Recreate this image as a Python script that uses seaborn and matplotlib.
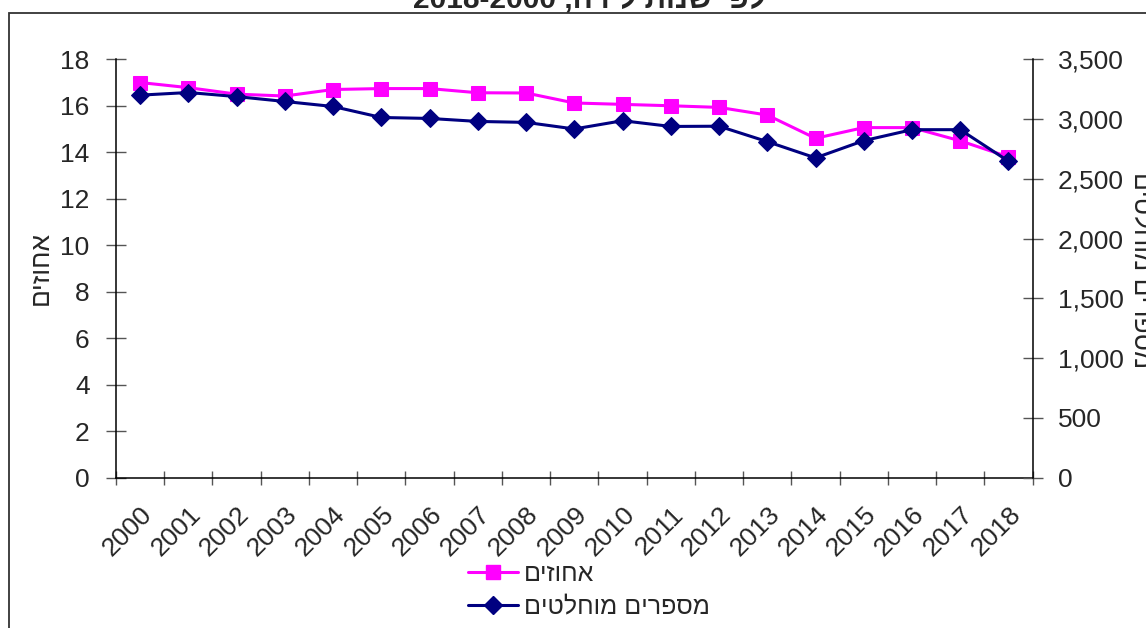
import matplotlib
matplotlib.use("Agg")
import matplotlib.pyplot as plt
import seaborn as sns
import numpy as np
from matplotlib.patches import Rectangle
from matplotlib.lines import Line2D

# ---- data ----
years = [str(y) for y in range(2000, 2019)]
pct = [17.0, 16.78, 16.5, 16.42, 16.7, 16.74, 16.74, 16.56, 16.55, 16.12,
       16.06, 16.0, 15.93, 15.6, 14.6, 15.06, 15.06, 14.49, 13.8]
absolute = [3200, 3222, 3188, 3147, 3105, 3013, 3005, 2980, 2972, 2917,
            2986, 2938, 2940, 2811, 2675, 2819, 2911, 2911, 2647]
left_ticks = [0, 2, 4, 6, 8, 10, 12, 14, 16, 18]
right_ticks = [0, 500, 1000, 1500, 2000, 2500, 3000, 3500]
label_pct = "אחוזים"
label_abs = "מספרים מוחלטים"
title_he = "לפי שנות לידה,"
title_years = "2018-2000"


def vis(s):
    # matplotlib has no bidi support: reverse Hebrew runs for visual order
    import re
    parts = re.split(r"(\s+)", s)
    out = []
    for p in parts:
        if re.search(r"[\u0590-\u05FF]", p):
            out.append(p[::-1])
        else:
            out.append(p)
    return "".join(out[::-1])


sns.set_theme(style="white")
plt.rcParams["font.family"] = ["Liberation Sans", "DejaVu Sans"]

W, H = 1146, 628
fig = plt.figure(figsize=(W / 100, H / 100), dpi=100)
L, R, T, B = 116, 1032.6, 59.3, 477.5
ax = fig.add_axes([L / W, 1 - B / H, (R - L) / W, (B - T) / H])
ax2 = ax.twinx()

xpos = np.arange(len(years))
pink = "#FF00FF"
navy = "#000080"

sns.lineplot(x=xpos, y=pct, ax=ax, color=pink, marker="s", markersize=10.5,
             markeredgecolor=pink, linewidth=2.2, legend=False, zorder=3)
sns.lineplot(x=xpos, y=absolute, ax=ax2, color=navy, marker="D", markersize=9,
             markeredgecolor=navy, linewidth=2.2, legend=False, zorder=4)

ax.set_xlim(-0.5, len(years) - 0.5)
ax.set_ylim(0, 18)
ax2.set_ylim(0, 3500)
ax.set_yticks(left_ticks)
ax.set_yticklabels([str(t) for t in left_ticks], fontsize=19)
ax2.set_yticks(right_ticks)
ax2.set_yticklabels([f"{t:,}" for t in right_ticks], fontsize=19)

ax.set_xticks(np.arange(-0.5, len(years), 1.0))
ax.set_xticklabels([])
ax.set_xticks(xpos, minor=True)
ax.set_xticklabels(years, minor=True, rotation=45, ha="right",
                   rotation_mode="anchor", fontsize=19)
ax.tick_params(axis="x", which="major", direction="inout", length=10,
               width=1, color="#555555", bottom=True)
ax.tick_params(axis="x", which="minor", length=0, pad=18)
ax.tick_params(axis="y", direction="inout", length=14, width=1,
               color="#555555", left=True, pad=12)
ax2.tick_params(axis="y", direction="inout", length=14, width=1,
                color="#555555", right=True, pad=11)

for a in (ax, ax2):
    a.spines["top"].set_visible(False)
    a.grid(False)
ax.spines["right"].set_visible(False)
ax2.spines["left"].set_visible(False)
ax2.spines["bottom"].set_visible(False)
for a, s in ((ax, "left"), (ax, "bottom"), (ax2, "right")):
    a.spines[s].set_color("black")
    a.spines[s].set_linewidth(1.1)

ax.set_ylabel("")
ax2.set_ylabel("")

# axis titles
fig.text(41 / W, 1 - 268 / H, vis(label_pct), rotation=90, fontsize=19,
         ha="center", va="center")
fig.text(1141 / W, 1 - 270 / H, vis(label_abs), rotation=270, fontsize=19,
         ha="center", va="center")

# title (cut off at top in the reference)
fig.text(589 / W, 1 - 8 / H, title_years + " " + vis(title_he), fontsize=21.5,
         fontweight="bold", ha="center", va="baseline")

# outer frame
fig.patches.append(Rectangle((8.5 / W, -0.1), 1.2, 1 - 12.5 / H + 0.1,
                             transform=fig.transFigure, fill=False,
                             edgecolor="#333333", linewidth=1.3))

handles = [Line2D([], [], color=pink, marker="s", markersize=10.5, linewidth=2.2),
           Line2D([], [], color=navy, marker="D", markersize=9, linewidth=2.2)]
fig.legend(handles, [vis(label_pct), vis(label_abs)], loc="center left",
           bbox_to_anchor=(468 / W, 1 - 590 / H), frameon=False, fontsize=18,
           handlelength=2.0, handletextpad=0.25, labelspacing=0.35,
           borderpad=0, borderaxespad=0)

fig.savefig("out.png", dpi=100)
